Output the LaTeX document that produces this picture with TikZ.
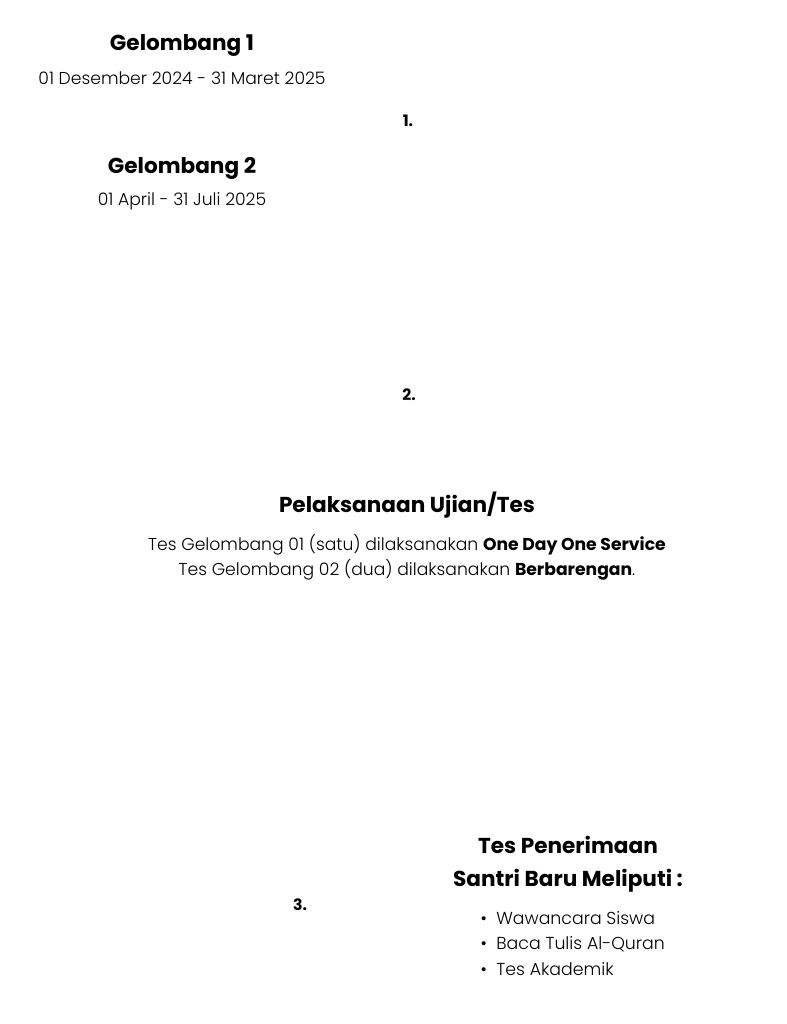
\documentclass[tikz,border=0pt]{standalone}
\usepackage{fontspec}
\setmainfont{Poppins}[UprightFont=* Light, BoldFont=* Bold]
\begin{document}
\begin{tikzpicture}[x=0.75pt, y=-0.75pt,
	head/.style={font=\bfseries\fontsize{16.2}{20}\selectfont},
	body/.style={font=\fontsize{12.9}{19}\selectfont, align=center},
	num/.style={font=\bfseries\fontsize{11.8}{14}\selectfont},
	item/.style={anchor=west, font=\fontsize{13}{15}\selectfont}]
	\useasboundingbox (0, 0) rectangle (786, 1024);

	\node[head] (g1) at (182, 45) {Gelombang 1};
	\node[body] (g1date) at (182, 78) {01 Desember 2024 - 31 Maret 2025};
	\node[num] (n1) at (408, 121) {1.};

	\node[head] (g2) at (182, 168) {Gelombang 2};
	\node[body] (g2date) at (182, 201) {01 April - 31 Juli 2025};

	\node[num] (n2) at (409, 395) {2.};

	\node[head] (ujian) at (407, 505) {Pelaksanaan Ujian/Tes};
	\node[body] (ujiantxt) at (407, 557) {Tes Gelombang 01 (satu) dilaksanakan \textbf{One Day One Service}\\
		Tes Gelombang 02 (dua) dilaksanakan \textbf{Berbarengan}.};

	\node[num] (n3) at (300, 905) {3.};
	\node[head, align=center, font=\bfseries\fontsize{16.2}{25}\selectfont] (tes) at (568, 864) {Tes Penerimaan\\Santri Baru Meliputi :};

	\node[item] (i1) at (476, 918) {•\hspace{7pt}Wawancara Siswa};
	\node[item] (i2) at (476, 944) {•\hspace{7pt}Baca Tulis Al-Quran};
	\node[item] (i3) at (476, 969) {•\hspace{7pt}Tes Akademik};
\end{tikzpicture}
\end{document}
